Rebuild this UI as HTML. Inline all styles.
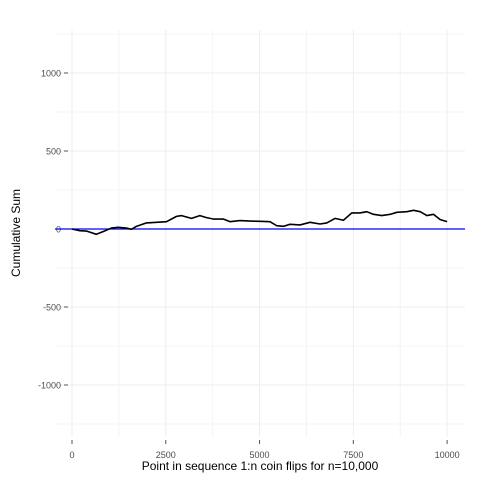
<!DOCTYPE html>
<html><head><meta charset="utf-8"><style>body{margin:0;background:#fff}svg{font-family:"Liberation Sans",sans-serif}</style></head>
<body>
<svg id="c" width="480" height="480"></svg>
<script>
const idx=[0,205,383,650,828,1050,1228,1450,1584,1718,1985,2252,2519,2786,2919,3186,3409,3587,3765,4032,4210,4477,4744,5011,5278,5456,5634,5812,6079,6346,6613,6791,7013,7236,7458,7681,7859,8037,8259,8482,8660,8927,9105,9283,9461,9639,9817,10000];
const vals=[0,-11,-13,-34,-17,6,11,6,-2,17,39,43,47,81,86,68,86,73,64,64,47,54,51,49,47,21,17,30,26,43,32,39,68,56,103,103,111,94,86,94,107,111,120,111,86,94,60,47];
const xTicks=[0,2500,5000,7500,10000];
const yTicks=[-1000,-500,0,500,1000];
const NS="http://www.w3.org/2000/svg";
const svg=document.getElementById('c');
const X=v=>72+v*0.03751;
const Y=v=>229-v*0.156;
function mk(t,a){const e=document.createElementNS(NS,t);for(const k in a)e.setAttribute(k,a[k]);svg.appendChild(e);return e;}
// grid
[-1250,-750,-250,250,750,1250].forEach(v=>{const e=mk('line',{x1:55,x2:465,y1:Y(v),y2:Y(v),stroke:'#f4f4f4'});

});
yTicks.forEach(v=>{const e=mk('line',{x1:55,x2:465,y1:Y(v),y2:Y(v),stroke:'#eeeeee'});


const t=mk('line',{x1:64,x2:68,y1:Y(v),y2:Y(v),stroke:'#555'});


const l=mk('text',{x:61,y:Y(v)+3.5,'text-anchor':'end','font-size':9,fill:'#4d4d4d'});l.textContent=v;

});
[1250,3750,6250,8750].forEach(v=>{const e=mk('line',{x1:X(v),x2:X(v),y1:30,y2:437,stroke:'#f4f4f4'});

});
xTicks.forEach(v=>{const e=mk('line',{x1:X(v),x2:X(v),y1:30,y2:437,stroke:'#eeeeee'});


const t=mk('line',{x1:X(v),x2:X(v),y1:440,y2:444,stroke:'#555'});


const l=mk('text',{x:X(v),y:458,'text-anchor':'middle','font-size':9,fill:'#4d4d4d'});l.textContent=v;

});
// zero line
const z=mk('line',{x1:55,x2:465,y1:Y(0),y2:Y(0),stroke:'#0000ff','stroke-width':1.2});


// series
const p=mk('polyline',{points:idx.map((v,i)=>X(v)+','+Y(vals[i])).join(' '),fill:'none',stroke:'#000','stroke-width':1.6,'stroke-linejoin':'round'});


const xt=mk('text',{x:260,y:470,'text-anchor':'middle','font-size':12,fill:'#000'});xt.textContent='Point in sequence 1:n coin flips for n=10,000';


const yt=mk('text',{x:0,y:0,'text-anchor':'middle','font-size':12,fill:'#000',transform:'translate(20,233) rotate(-90)'});yt.textContent='Cumulative Sum';


</script>
</body></html>
